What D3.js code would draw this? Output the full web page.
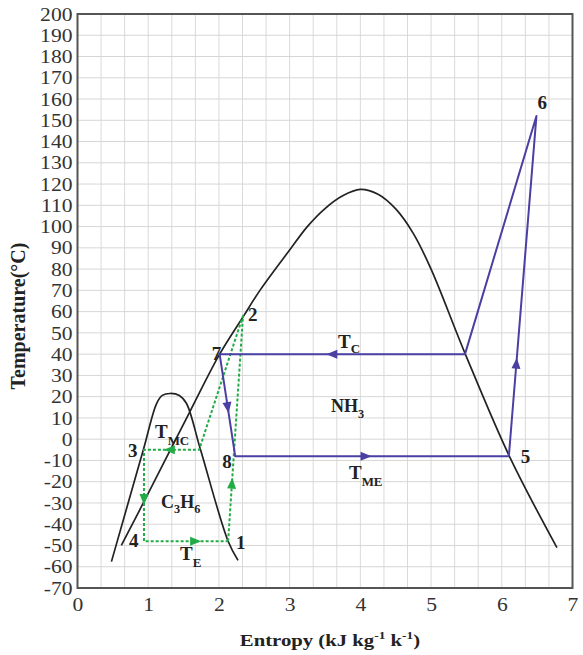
<!DOCTYPE html>
<html><head><meta charset="utf-8">
<script src="https://cdn.jsdelivr.net/npm/d3@7"></script>
<style>
  body{margin:0;background:#fff}
  text{font-family:"Liberation Serif","Times New Roman",serif}
</style>
</head><body>
<svg id="chart" width="583" height="655"></svg>
<script>
// Axis ticks
const xTicks = [0, 1, 2, 3, 4, 5, 6, 7];
const yTicks = d3.range(-70, 201, 10);

// Saturation dome of NH3 (entropy kJ/kg·K, temperature °C)
const nh3DomeS = [0.62, 1.00, 1.59, 2.01, 2.35, 2.58, 3.00, 3.25, 3.50, 3.75, 4.00, 4.25, 4.50, 4.75, 5.00, 5.48, 6.11, 6.78];
const nh3DomeT = [-50, -25.5, 13, 40, 58, 70, 89, 100, 108.5, 114.5, 117.5, 115.2, 108.3, 96.7, 80, 40.4, -8.2, -51];

// Saturation dome of C3H6
const c3h6DomeS = [0.48, 0.93, 1.12, 1.20, 1.31, 1.44, 1.54, 1.74, 2.13, 2.27];
const c3h6DomeT = [-57.6, -5.1, 16.9, 20.6, 21.5, 20.6, 16.9, -5, -48, -57];

// High-temperature NH3 cycle: 5 → 6 → (saturated vapour) → 7 → 8 → 5
const nh3CycleS = [6.10, 6.49, 5.48, 2.01, 2.23, 6.10];
const nh3CycleT = [-8, 152, 40, 40, -8, -8];
const nh3CycleNames = ["5", "6", "", "7", "8", ""];

// Low-temperature C3H6 cycle: 1 → 2 → (saturated vapour) → 3 → 4 → 1
const c3h6CycleS = [2.13, 2.34, 1.72, 0.94, 0.94, 2.13];
const c3h6CycleT = [-48, 58, -5, -5, -48, -48];
const c3h6CycleNames = ["1", "2", "", "3", "4", ""];

// Flow-direction arrows: [segment index, fraction along segment]
const nh3Arrows = [[0, 0.275], [2, 0.545], [3, 0.53], [4, 0.48]];
const c3h6Arrows = [[0, 0.26], [2, 0.55], [3, 0.55], [4, 0.62]];

const svg = d3.select("#chart");
const plotL = 77.5, plotR = 572.5, plotT = 14, plotB = 588;
const x = d3.scaleLinear().domain([0, 7]).range([plotL, plotR]);
const y = d3.scaleLinear().domain([-70, 200]).range([plotB, plotT]);

const blue = "#4a3fa2", green = "#22ac46", black = "#222";

// Grid
const grid = svg.append("g");
grid.selectAll("line.v").data(d3.range(1, 21).map(i => i / 3)).join("line")
  .attr("class", "v")
  .attr("x1", d => x(d)).attr("x2", d => x(d)).attr("y1", plotT).attr("y2", plotB)
  .attr("stroke", "#dadada").attr("stroke-width", 1);
grid.selectAll("line.h").data(yTicks.slice(1, -1)).join("line")
  .attr("class", "h")
  .attr("y1", d => y(d)).attr("y2", d => y(d)).attr("x1", plotL).attr("x2", plotR)
  .attr("stroke", "#d6d6d6").attr("stroke-width", 1);

// Axes
const xAxis = d3.axisBottom(x).tickValues(xTicks).tickSize(0).tickPadding(10).tickFormat(d => String(d));
const yAxis = d3.axisLeft(y).tickValues(yTicks).tickSize(0).tickPadding(5).tickFormat(d => String(d));
const gx = svg.append("g").attr("transform", `translate(0,${plotB})`).call(xAxis);
const gy = svg.append("g").attr("transform", `translate(${plotL},0)`).call(yAxis);
[gx, gy].forEach(g => {
  g.select(".domain").remove();
  g.selectAll("text").attr("font-family", "Liberation Serif, serif").attr("font-size", 18)
    .attr("fill", "#333").attr("transform", "scale(1.2,1)");
});
gy.selectAll("text").attr("dy", "0.34em").attr("x", -5 / 1.2);

// Frame
svg.append("rect").attr("x", plotL).attr("y", plotT).attr("width", plotR - plotL).attr("height", plotB - plotT)
  .attr("fill", "none").attr("stroke", "#555").attr("stroke-width", 2);

// Axis titles
const xt = svg.append("text").attr("transform", `translate(${(plotL + plotR) / 2 + 5},646) scale(1.22,1)`)
  .attr("text-anchor", "middle").attr("font-size", 17).attr("font-weight", "bold").attr("fill", "#222");
xt.append("tspan").text("Entropy (kJ kg");
xt.append("tspan").attr("dy", -7).attr("font-size", 11).text("-1");
xt.append("tspan").attr("dy", 7).text(" k");
xt.append("tspan").attr("dy", -7).attr("font-size", 11).text("-1");
xt.append("tspan").attr("dy", 7).text(")");

svg.append("text").attr("transform", "translate(25,316) rotate(-90)")
  .attr("text-anchor", "middle").attr("font-size", 20).attr("font-weight", "bold").attr("fill", "#222")
  .text("Temperature(°C)");

// Domes
const domeLine = d3.line().x(d => x(d[0])).y(d => y(d[1])).curve(d3.curveCatmullRom.alpha(0.5));
svg.append("path").attr("d", domeLine(d3.zip(nh3DomeS, nh3DomeT)))
  .attr("fill", "none").attr("stroke", black).attr("stroke-width", 1.7);
svg.append("path").attr("d", domeLine(d3.zip(c3h6DomeS, c3h6DomeT)))
  .attr("fill", "none").attr("stroke", black).attr("stroke-width", 1.7);

// Cycles
const cycLine = d3.line().x(d => x(d[0])).y(d => y(d[1]));
function drawCycle(S, T, arrows, color, dash) {
  const pts = d3.zip(S, T);
  svg.append("path").attr("d", cycLine(pts)).attr("fill", "none")
    .attr("stroke", color).attr("stroke-width", 2).attr("stroke-dasharray", dash)
    .attr("stroke-linejoin", "round");
  arrows.forEach(([i, f]) => {
    const x0 = x(pts[i][0]), y0 = y(pts[i][1]), x1 = x(pts[i + 1][0]), y1 = y(pts[i + 1][1]);
    const cx = x0 + (x1 - x0) * f, cy = y0 + (y1 - y0) * f;
    const ang = Math.atan2(y1 - y0, x1 - x0) * 180 / Math.PI;
    svg.append("path").attr("d", "M5,0 L-6,-4.5 L-6,4.5 Z").attr("fill", color)
      .attr("transform", `translate(${cx},${cy}) rotate(${ang})`);
  });
}
drawCycle(c3h6CycleS, c3h6CycleT, c3h6Arrows, green, "3,2");
drawCycle(nh3CycleS, nh3CycleT, nh3Arrows, blue, null);

// State point numbers
const labelOffsets = {
  "1": [8, 8], "2": [5, 5], "3": [-16, 7], "4": [-15, 6],
  "5": [12, 7], "6": [1, -7], "7": [-8, 6], "8": [-13, 12]
};
function pointLabels(S, T, names) {
  names.forEach((n, i) => {
    if (!n) return;
    const [dx, dy] = labelOffsets[n];
    svg.append("text").attr("x", x(S[i]) + dx).attr("y", y(T[i]) + dy)
      .attr("font-size", 19).attr("font-weight", "bold").attr("fill", "#222").text(n);
  });
}
pointLabels(c3h6CycleS, c3h6CycleT, c3h6CycleNames);
pointLabels(nh3CycleS, nh3CycleT, nh3CycleNames);

// Annotations with subscripts
function subText(px, py, main, sub, size, drop) {
  const t = svg.append("text").attr("x", px).attr("y", py)
    .attr("font-size", size).attr("font-weight", "bold").attr("fill", "#222");
  main.forEach((m, i) => {
    t.append("tspan").attr("dy", i === 0 ? 0 : -drop).attr("font-size", size).text(m);
    if (sub[i]) t.append("tspan").attr("dy", drop).attr("font-size", size * 0.68).text(sub[i]);
  });
}
subText(338, 348, ["T"], ["C"], 19, 5);
subText(331, 412, ["NH"], ["3"], 18, 6);
subText(349, 479, ["T"], ["ME"], 19, 7);
subText(155, 438, ["T"], ["MC"], 19, 7);
subText(161, 508, ["C", "H"], ["3", "6"], 18, 5);
subText(180, 560, ["T"], ["E"], 19, 7);
</script>
</body></html>
